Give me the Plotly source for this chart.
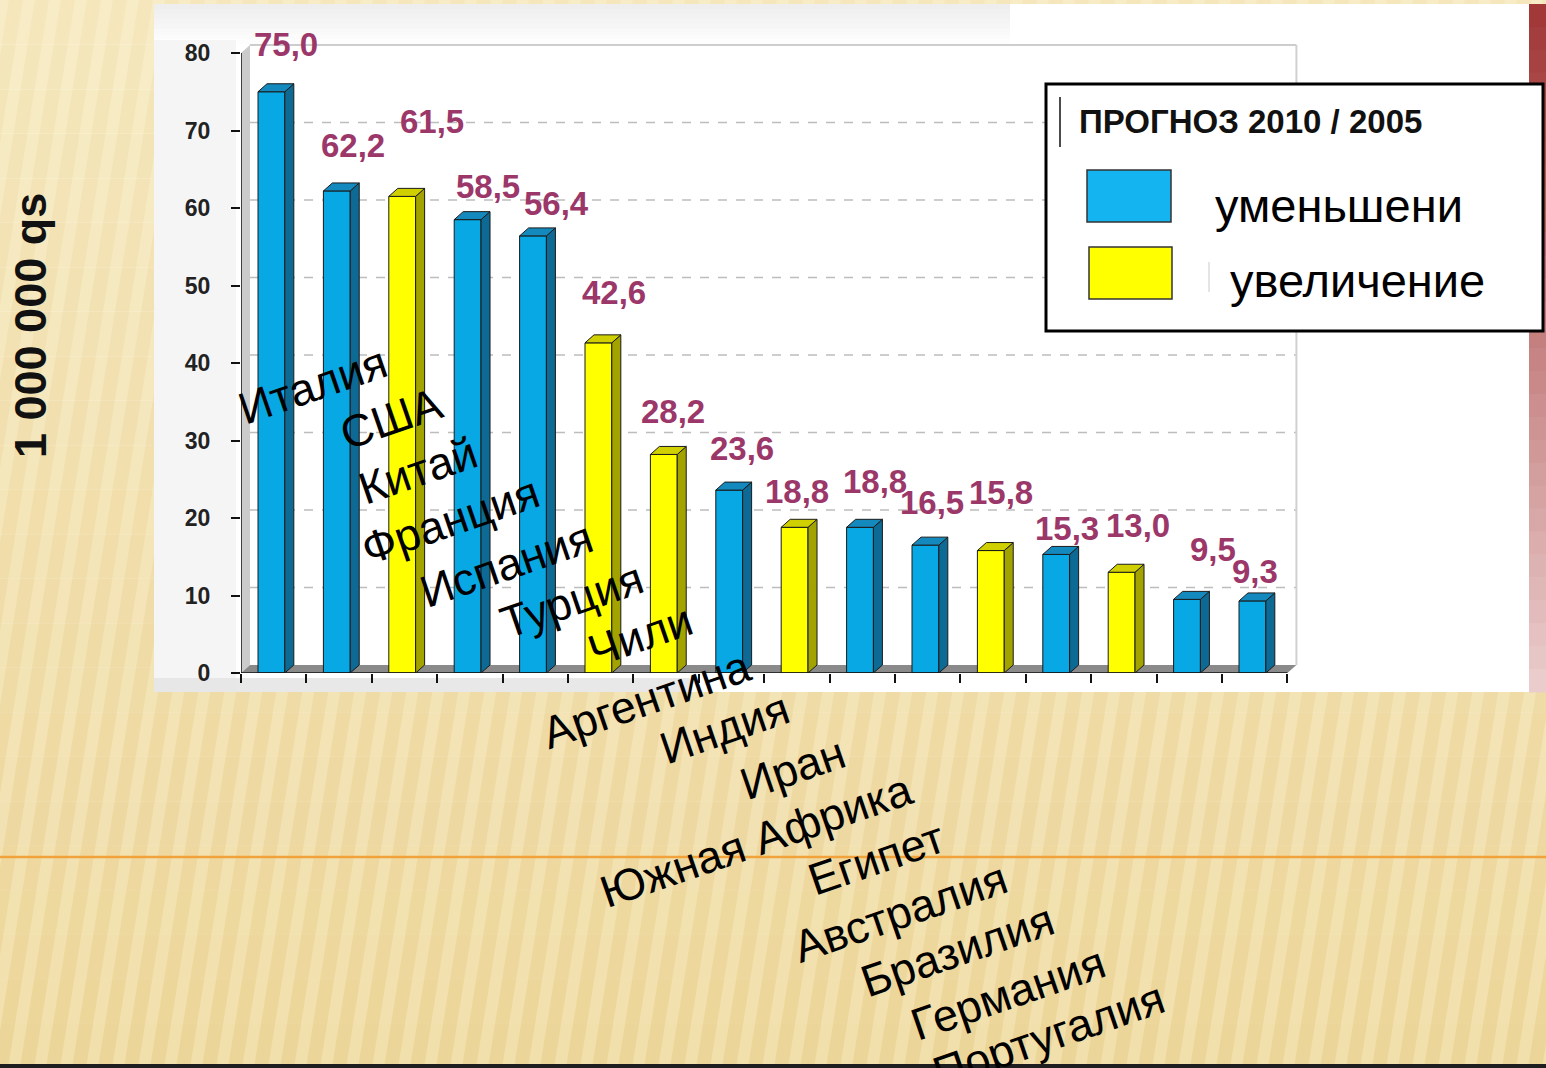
import plotly.graph_objects as go

# ---------------- data ----------------
countries = ["Италия", "США", "Китай", "Франция", "Испания", "Турция", "Чили",
             "Аргентина", "Индия", "Иран", "Южная Африка", "Египет", "Австралия",
             "Бразилия", "Германия", "Португалия"]
values = [75.0, 62.2, 61.5, 58.5, 56.4, 42.6, 28.2, 23.6, 18.8, 18.8, 16.5,
          15.8, 15.3, 13.0, 9.5, 9.3]
trend = ["down", "down", "up", "down", "down", "up", "up", "down", "up", "down",
         "down", "up", "down", "up", "down", "down"]
y_ticks = [0, 10, 20, 30, 40, 50, 60, 70, 80]
series_names = {"down": "уменьшени", "up": "увеличение"}
legend_title = "ПРОГНОЗ 2010 / 2005"
y_title = "1 000 000 qs"

# ---------------- layout constants ----------------
FIG_W, FIG_H = 1546, 1068
ML, MR, MT, MB = 241, 246, 44, 395
PW = FIG_W - ML - MR
PH = FIG_H - MT - MB
PX_PER_X = 65.4
PX_PER_Y = 7.75
X_RANGE = [-0.5, -0.5 + PW / PX_PER_X]
Y_RANGE = [0, PH / PX_PER_Y]
DX = 9 / PX_PER_X          # 3-D depth (x)
DY = 8 / PX_PER_Y          # 3-D depth (y)
FRONT_L, FRONT_W = -0.24, 0.41
FONT = "Liberation Sans, Arial, sans-serif"

COL = {
    "down": dict(front="#08A8E4", side="#0D6A94", top="#1389BE", legend="#14B4F0"),
    "up": dict(front="#FFFF00", side="#A3A300", top="#D0D000", legend="#FFFF00"),
}
LABEL_COLOR = "#9B3769"

# value-label pixel offsets (dx, dy up) relative to bar top
VAL_OFF = [(12.6, 46.8), (14.2, 45), (27.8, 74.4), (18.4, 33.6), (21, 32.9),
           (13.6, 49.9), (7.2, 42.5), (10.8, 42.1), (0.4, 35.3), (13, 45.3),
           (4.6, 43.1), (8.2, 58.5), (8.8, 26.4), (14.4, 46.3), (24, 49.4),
           (0.6, 29.9)]
# category-label pixel offsets (dx, dy up) relative to category centre on the baseline
CAT_OFF = [(38.6, 288), (52.2, 255), (13.8, 203), (-19.6, 153), (-29, 109),
           (-29.4, 73), (-25.8, 38), (-85.2, -26), (-72.6, -55), (-70, -95),
           (-171.4, -167), (-116.8, -185), (-158.2, -239), (-166.6, -277),
           (-181, -320), (-206.4, -362)]


def px(xp):
    return (xp - ML) / PW


def py(yp):
    return (FIG_H - MB - yp) / PH


shapes = []


def prect(x0, y0, x1, y1, fill, layer="below", line=None, opacity=1):
    shapes.append(dict(type="rect", xref="paper", yref="paper",
                       x0=px(x0), x1=px(x1), y0=py(y1), y1=py(y0),
                       fillcolor=fill, opacity=opacity, layer=layer,
                       line=line or dict(width=0)))


# ---------------- background ----------------
n_b = 24
for k in range(n_b):
    y0 = FIG_H * k / n_b
    y1 = FIG_H * (k + 1) / n_b + 0.5
    prect(0, y0, FIG_W, y1, "rgba(255,252,235,%.3f)" % (0.48 - 0.40 * k / (n_b - 1)))
tilt = 0.16 * FIG_H
xs = -int(tilt) - 30
while xs < FIG_W + 30:
    path = "M %f %f L %f %f L %f %f L %f %f Z" % (
        px(xs), py(FIG_H), px(xs + 12), py(FIG_H),
        px(xs + 12 + tilt), py(0), px(xs + tilt), py(0))
    shapes.append(dict(type="path", xref="paper", yref="paper", path=path,
                       fillcolor="rgba(255,250,225,0.28)", line=dict(width=0), layer="below"))
    xs += 26
shapes.append(dict(type="line", xref="paper", yref="paper", x0=px(0), x1=px(FIG_W),
                   y0=py(857), y1=py(857), line=dict(color="#F2A23A", width=2.5), layer="below"))
prect(0, 1064, FIG_W, FIG_H, "#1E1E1E")
# white chart panel
prect(154, 4, 1529, 692, "#FFFFFF")
n_g = 8
for k in range(n_g):
    prect(154, 4 + 5 * k, 1010, 9 + 5 * k, "#E8E8E8", opacity=0.75 * (1 - k / n_g))
prect(154, 40, 236, 692, "#F1F1F1", opacity=0.7)
prect(154, 678, 690, 692, "#E6E6E6", opacity=0.9)
# red strip at right with gradient
n_r = 30
for k in range(n_r):
    t = k / (n_r - 1)
    r = int(0xA2 + (0xEA - 0xA2) * t)
    g = int(0x38 + (0xCC - 0x38) * t)
    b = int(0x38 + (0xCC - 0x38) * t)
    y0 = 4 + (692 - 4) * k / n_r
    y1 = 4 + (692 - 4) * (k + 1) / n_r + 0.5
    prect(1529, y0, FIG_W, y1, "rgb(%d,%d,%d)" % (r, g, b))

# ---------------- 3-D chart frame ----------------
x_lo, x_hi = -0.5, len(values) - 0.5
shapes.append(dict(type="path", xref="x", yref="y", layer="below",
                   path="M %f 0 L %f %f L %f %f L %f 80 Z" % (x_lo, x_lo + DX, DY, x_lo + DX, 80 + DY, x_lo),
                   fillcolor="#CBCBCB", line=dict(width=0)))
shapes.append(dict(type="path", xref="x", yref="y", layer="below",
                   path="M %f 0 L %f 0 L %f %f L %f %f Z" % (x_lo, x_hi, x_hi + DX, DY, x_lo + DX, DY),
                   fillcolor="#8A8A8A", line=dict(width=0)))
for v in y_ticks[1:]:
    shapes.append(dict(type="line", xref="x", yref="y", layer="below",
                       x0=x_lo + DX, x1=x_hi + DX, y0=v + DY, y1=v + DY,
                       line=dict(color="#BDBDBD", width=1.5,
                                 dash="solid" if v == y_ticks[-1] else "dash")))
shapes.append(dict(type="line", xref="x", yref="y", layer="below",
                   x0=x_hi + DX, x1=x_hi + DX, y0=DY, y1=y_ticks[-1] + DY,
                   line=dict(color="#D0D0D0", width=2)))
shapes.append(dict(type="line", xref="x", yref="y", layer="above",
                   x0=x_lo, x1=x_lo, y0=0, y1=y_ticks[-1], line=dict(color="#111", width=1.5)))
shapes.append(dict(type="line", xref="x", yref="y", layer="above",
                   x0=x_lo, x1=x_hi, y0=0, y1=0, line=dict(color="#111", width=1.5)))

for i, (v, t) in enumerate(zip(values, trend)):
    xl = i + FRONT_L
    xr = xl + FRONT_W
    shapes.append(dict(type="path", xref="x", yref="y", layer="above",
                       path="M %f 0 L %f %f L %f %f L %f %f Z" % (xr, xr, v, xr + DX, v + DY, xr + DX, DY),
                       fillcolor=COL[t]["side"], line=dict(color="#1A1A1A", width=1)))
    shapes.append(dict(type="path", xref="x", yref="y", layer="above",
                       path="M %f %f L %f %f L %f %f L %f %f Z" % (xl, v, xr, v, xr + DX, v + DY, xl + DX, v + DY),
                       fillcolor=COL[t]["top"], line=dict(color="#1A1A1A", width=1)))

# ---------------- legend box ----------------
prect(1046, 84, 1543, 331, "#FFFFFF", layer="above", line=dict(color="#000", width=3))
shapes.append(dict(type="line", xref="paper", yref="paper", layer="above",
                   x0=px(1060), x1=px(1060), y0=py(97), y1=py(147), line=dict(color="#111", width=1.5)))
prect(1087, 170, 1171, 222, COL["down"]["legend"], layer="above", line=dict(color="#333", width=1.5))
prect(1089, 247, 1172, 299, COL["up"]["legend"], layer="above", line=dict(color="#333", width=1.5))
shapes.append(dict(type="line", xref="paper", yref="paper", layer="above",
                   x0=px(1209), x1=px(1209), y0=py(262), y1=py(292), line=dict(color="#DDDDDD", width=1.5)))

# ---------------- figure ----------------
fig = go.Figure()
for key in ["down", "up"]:
    idx = [i for i, t in enumerate(trend) if t == key]
    fig.add_trace(go.Bar(
        x=idx, y=[values[i] for i in idx], offset=FRONT_L, width=FRONT_W,
        name=series_names[key], showlegend=False,
        marker=dict(color=COL[key]["front"], line=dict(color="#1A1A1A", width=1)),
        hovertext=[countries[i] for i in idx]))

annotations = []
for i, v in enumerate(values):
    annotations.append(dict(xref="x", yref="y", x=i, y=v, xshift=VAL_OFF[i][0], yshift=VAL_OFF[i][1],
                            text="<b>" + ("%.1f" % v).replace(".", ",") + "</b>", showarrow=False,
                            xanchor="center", yanchor="middle",
                            font=dict(family=FONT, size=33, color=LABEL_COLOR)))
for i, name in enumerate(countries):
    annotations.append(dict(xref="x", yref="paper", x=i, y=0, xshift=CAT_OFF[i][0], yshift=CAT_OFF[i][1],
                            text=name, showarrow=False, textangle=-19,
                            xanchor="center", yanchor="middle",
                            font=dict(family=FONT, size=45, color="#000")))
annotations.append(dict(xref="paper", yref="paper", x=px(31), y=py(326), text="<b>" + y_title + "</b>",
                        showarrow=False, textangle=-90, xanchor="center", yanchor="middle",
                        font=dict(family=FONT, size=45, color="#111")))
annotations.append(dict(xref="paper", yref="paper", x=px(1077), y=py(121), text="<b>" + legend_title + "</b>",
                        showarrow=False, xanchor="left", yanchor="middle",
                        font=dict(family=FONT, size=33, color="#111")))
annotations.append(dict(xref="paper", yref="paper", x=px(1213), y=py(205), text=series_names["down"],
                        showarrow=False, xanchor="left", yanchor="middle",
                        font=dict(family=FONT, size=47, color="#000")))
annotations.append(dict(xref="paper", yref="paper", x=px(1228), y=py(280), text=series_names["up"],
                        showarrow=False, xanchor="left", yanchor="middle",
                        font=dict(family=FONT, size=47, color="#000")))

fig.update_layout(
    width=FIG_W, height=FIG_H,
    margin=dict(l=ML, r=MR, t=MT, b=MB, autoexpand=False),
    paper_bgcolor="#EBD292", plot_bgcolor="rgba(0,0,0,0)",
    showlegend=False, barmode="overlay",
    shapes=shapes, annotations=annotations,
    xaxis=dict(range=X_RANGE, showgrid=False, zeroline=False, showline=False,
               tickmode="array", tickvals=[x_lo + k for k in range(len(values) + 1)],
               ticktext=[""] * (len(values) + 1), ticks="outside", ticklen=9,
               tickwidth=1.5, tickcolor="#111"),
    yaxis=dict(range=Y_RANGE, showgrid=False, zeroline=False, showline=False,
               tickmode="array", tickvals=y_ticks, ticktext=[str(v) for v in y_ticks],
               ticks="outside", ticklen=9, tickwidth=1.5, tickcolor="#111",
               ticklabelstandoff=16,
               tickfont=dict(family=FONT, size=23, color="#222", weight="bold")),
)

fig.write_html("out.html", config={"displayModeBar": False},
               post_script="document.body.style.margin='0';document.body.style.overflow='hidden';")
